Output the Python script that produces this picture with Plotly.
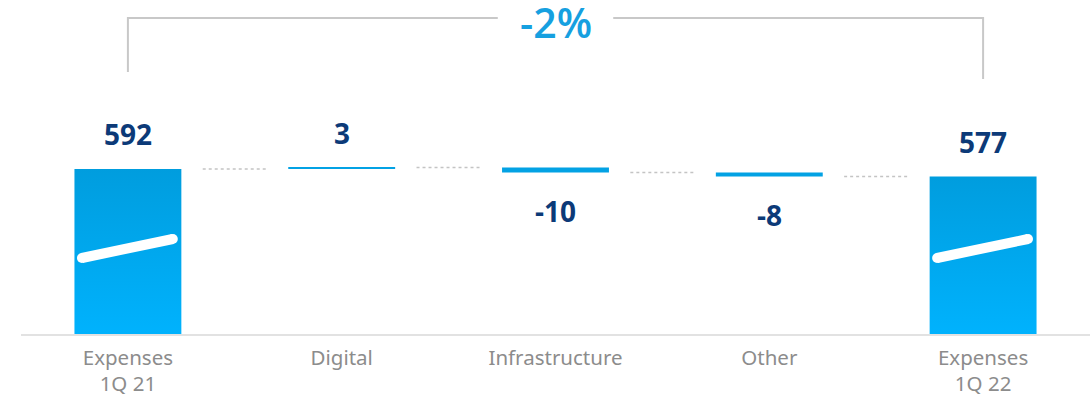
import plotly.graph_objects as go

# ---- data ----
categories = ["Expenses<br>1Q 21", "Digital", "Infrastructure", "Other", "Expenses<br>1Q 22"]
start_total = 592
deltas = [3, -10, -8]
end_total = 577
change_label = "-2%"

# ---- derived ----
levels = [start_total]
for d in deltas:
    levels.append(levels[-1] + d)
value_labels = [str(start_total)] + [str(d) for d in deltas] + [str(end_total)]

Y_FLOOR = 262          # broken axis starts here
Y_TOP = 930
BAR_HALF = 0.25
NAVY = "#0C3A78"
BLUE = "#03A2E4"
GRAY_TXT = "#8C8C8C"

fig = go.Figure()

# total bars with vertical gradient
for i, v in [(0, start_total), (4, end_total)]:
    fig.add_trace(go.Scatter(
        x=[i - BAR_HALF, i + BAR_HALF, i + BAR_HALF, i - BAR_HALF, i - BAR_HALF],
        y=[Y_FLOOR, Y_FLOOR, v, v, Y_FLOOR],
        mode="lines", fill="toself", line=dict(width=0),
        fillgradient=dict(type="vertical",
                          colorscale=[[0, "#00B2FD"], [1, "#009DDE"]],
                          start=Y_FLOOR, stop=v),
        hoverinfo="skip"))
    # axis-break slash
    fig.add_trace(go.Scatter(
        x=[i - 0.215, i + 0.21], y=[414, 452],
        mode="lines+markers", line=dict(color="white", width=10),
        marker=dict(color="white", size=10), hoverinfo="skip"))

# delta bars
fig.add_trace(go.Bar(
    x=[1, 2, 3], y=deltas, base=levels[:-1], width=2 * BAR_HALF,
    marker=dict(color=BLUE, line=dict(width=0)), hoverinfo="skip"))

# dotted connectors
for k, lv in enumerate(levels):
    fig.add_trace(go.Scatter(
        x=[k + 0.35, k + 0.65], y=[lv, lv], mode="lines",
        line=dict(color="#C4C4C4", width=1.5, dash="dot"), hoverinfo="skip"))

# value labels
tops = [start_total] + [max(levels[j], levels[j + 1]) for j in range(3)] + [end_total]
bottoms = [start_total] + [min(levels[j], levels[j + 1]) for j in range(3)] + [end_total]
signs = [1] + [1 if d >= 0 else -1 for d in deltas] + [1]
for i, (lab, s) in enumerate(zip(value_labels, signs)):
    y = tops[i] if s > 0 else bottoms[i]
    fig.add_annotation(x=i, y=y, text=lab, showarrow=False,
                       yanchor="middle", yshift=35 if s > 0 else -38,
                       font=dict(family="Open Sans", size=28, color=NAVY, weight=700))

# bracket with percentage change
br_y = 894
fig.add_trace(go.Scatter(x=[0, 0, 1.73], y=[start_total + 194, br_y, br_y], mode="lines",
                         line=dict(color="#C8C8C8", width=2), hoverinfo="skip"))
fig.add_trace(go.Scatter(x=[2.27, 4, 4], y=[br_y, br_y, end_total + 195], mode="lines",
                         line=dict(color="#C8C8C8", width=2), hoverinfo="skip"))
fig.add_annotation(x=2, y=br_y, text=change_label, showarrow=False, yanchor="middle",
                   yshift=-4,
                   font=dict(family="Open Sans", size=41, color="#16A0E0", weight=600))

fig.update_layout(
    width=1091, height=403,
    margin=dict(l=21, r=1, t=0, b=69),
    paper_bgcolor="white", plot_bgcolor="white",
    showlegend=False,
    xaxis=dict(range=[-0.5, 4.5], tickmode="array", tickvals=list(range(5)),
               ticktext=categories, showgrid=False, zeroline=False,
               showline=True, linecolor="#E2E2E2", linewidth=2, ticks="",
               ticklabelstandoff=4,
               tickfont=dict(family="Noto Sans", size=20.5, color=GRAY_TXT)),
    yaxis=dict(range=[Y_FLOOR, Y_TOP], visible=False, showgrid=False, zeroline=False),
)

fig.write_html("out.html")
